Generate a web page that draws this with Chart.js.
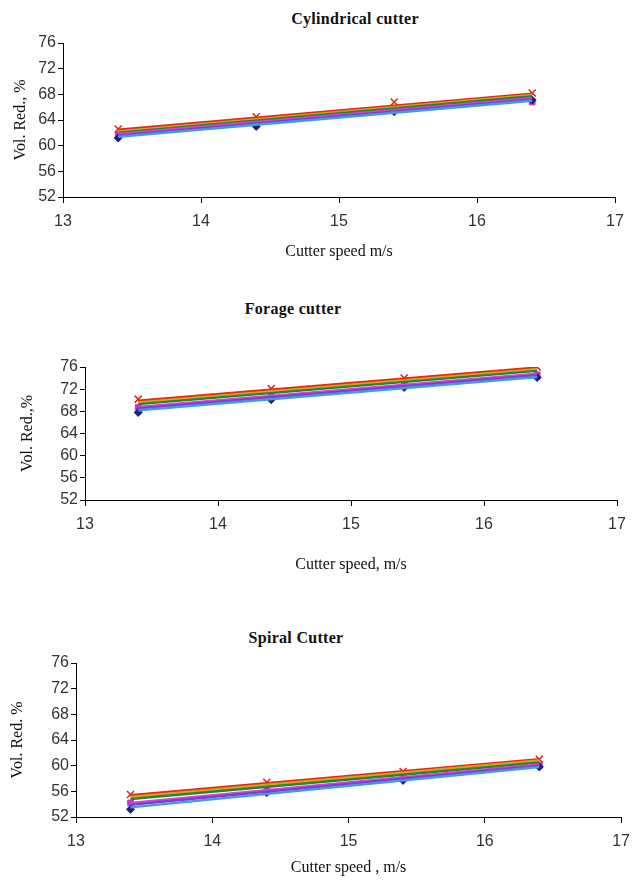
<!DOCTYPE html>
<html>
<head>
<meta charset="utf-8">
<script src="https://cdn.jsdelivr.net/npm/chart.js@4"></script>
<style>
  body { margin: 0; background: #fff; width: 639px; height: 884px; position: relative; overflow: hidden; }
  .box { position: absolute; left: 0; width: 639px; }
  .ttl { position: absolute; font: bold 16px "Liberation Serif", serif; color: #111; white-space: nowrap; transform: translate(-50%, -50%); letter-spacing: 0.3px; }
</style>
</head>
<body>
<div class="ttl" style="left:355px; top:19px;">Cylindrical cutter</div>
<div class="ttl" style="left:293px; top:309px;">Forage cutter</div>
<div class="ttl" style="left:296px; top:638px;">Spiral Cutter</div>
<div class="box" style="top:0; height:270px;"><canvas id="cyl"></canvas></div>
<div class="box" style="top:280px; height:310px;"><canvas id="forage"></canvas></div>
<div class="box" style="top:600px; height:284px;"><canvas id="spiral"></canvas></div>
<script>
// cutter speeds (m/s) where the points sit
const speeds = [13.4, 14.4, 15.4, 16.4];
// trend lines run from first to last speed
const lineEnds = [13.4, 16.4];
const lineColors = ['#3d9be8', '#7a3fd0', '#e03ce0', '#1f8a2a', '#d9a21e', '#e8251a'];
const yTicks = [52, 56, 60, 64, 68, 72, 76];
const xTicks = [13, 14, 15, 16, 17];

// Cylindrical cutter
const cylBlue = [61.2, 63.0, 65.3, 67.1];
const cylPink = [61.7, 63.6, 65.6, 66.8];
const cylRed = [62.6, 64.5, 66.8, 68.2];
const cylLines = [[61.4, 67.0], [61.6, 67.2], [61.8, 67.4], [62.0, 67.7], [62.2, 67.9], [62.5, 68.1]];

// Forage cutter
const forBlue = [67.8, 70.1, 72.3, 74.1];
const forPink = [68.7, 70.6, 72.9, 74.6];
const forRed = [70.2, 72.1, 74.0, 76.0];
const forLines = [[68.2, 74.2], [68.5, 74.5], [68.8, 74.8], [69.3, 75.3], [69.6, 75.6], [69.9, 75.9]];

// Spiral cutter
const spiBlue = [53.2, 55.8, 57.7, 59.8];
const spiPink = [54.2, 56.3, 58.2, 60.1];
const spiRed = [55.5, 57.4, 59.1, 61.0];
const spiLines = [[53.5, 59.8], [53.9, 60.0], [54.2, 60.2], [54.8, 60.5], [55.1, 60.8], [55.4, 61.0]];

function pts(xs, ys) {
  return xs.map((x, i) => ({ x: x, y: ys[i] }));
}

function makeChart(id, lines, blue, pink, red, cfg) {
  const datasets = [];
  lines.forEach((ends, i) => {
    datasets.push({
      data: pts(lineEnds, ends),
      showLine: true,
      borderColor: lineColors[i],
      borderWidth: 2.5,
      pointRadius: 0
    });
  });
  datasets.push({ data: pts(speeds, blue), pointStyle: 'rectRot', pointRadius: 4, backgroundColor: '#1c1f7a', borderColor: '#1c1f7a' });
  datasets.push({ data: pts(speeds, pink), pointStyle: 'rect', pointRadius: 4, backgroundColor: '#c732c7', borderColor: '#c732c7' });
  datasets.push({ data: pts(speeds, red), pointStyle: 'crossRot', pointRadius: 5, borderWidth: 1.5, borderColor: '#d8231c' });

  new Chart(document.getElementById(id), {
    type: 'scatter',
    data: { datasets: datasets },
    options: {
      responsive: true,
      maintainAspectRatio: false,
      animation: false,
      layout: { padding: { top: cfg.top, right: cfg.right, left: 0, bottom: 0 } },
      plugins: { legend: { display: false }, tooltip: { enabled: false } },
      scales: {
        x: {
          type: 'linear',
          min: 13, max: 17,
          afterBuildTicks: s => { s.ticks = xTicks.map(v => ({ value: v })); },
          afterFit: s => { s.height = cfg.xh; },
          border: { color: '#000', width: 1 },
          grid: { drawOnChartArea: false, color: '#000', tickLength: 6 },
          ticks: { autoSkip: false, color: '#333', padding: 9, font: { family: 'Liberation Sans', size: 16 } },
          title: { display: true, text: cfg.xTitle, color: '#111', padding: { top: 0, bottom: cfg.xpb }, font: { family: 'Liberation Serif', size: 16, lineHeight: 1.1 } }
        },
        y: {
          min: 52, max: 76,
          afterBuildTicks: s => { s.ticks = yTicks.map(v => ({ value: v })); },
          afterFit: s => { s.width = cfg.yw; },
          border: { color: '#000', width: 1 },
          grid: { drawOnChartArea: false, color: '#000', tickLength: 5 },
          ticks: { autoSkip: false, color: '#333', padding: 2, font: { family: 'Liberation Sans', size: 16 } },
          title: { display: true, text: cfg.yTitle, color: '#111', padding: { top: cfg.ypt, bottom: 0 }, font: { family: 'Liberation Serif', size: 16, lineHeight: 1.1 } }
        }
      }
    }
  });
}

makeChart('cyl', cylLines, cylBlue, cylPink, cylRed,
  { top: 43, right: 24, xh: 73, yw: 63, xpb: 9.5, ypt: 11.5, xTitle: 'Cutter speed m/s', yTitle: 'Vol. Red., %' });
makeChart('forage', forLines, forBlue, forPink, forRed,
  { top: 87, right: 22, xh: 90, yw: 85, xpb: 16.5, ypt: 18.5, xTitle: 'Cutter speed, m/s', yTitle: 'Vol. Red.,%' });
makeChart('spiral', spiLines, spiBlue, spiPink, spiRed,
  { top: 63, right: 12, xh: 67, yw: 76, xpb: 7.5, ypt: 8.5, xTitle: 'Cutter speed , m/s', yTitle: 'Vol. Red. %' });
</script>
</body>
</html>
